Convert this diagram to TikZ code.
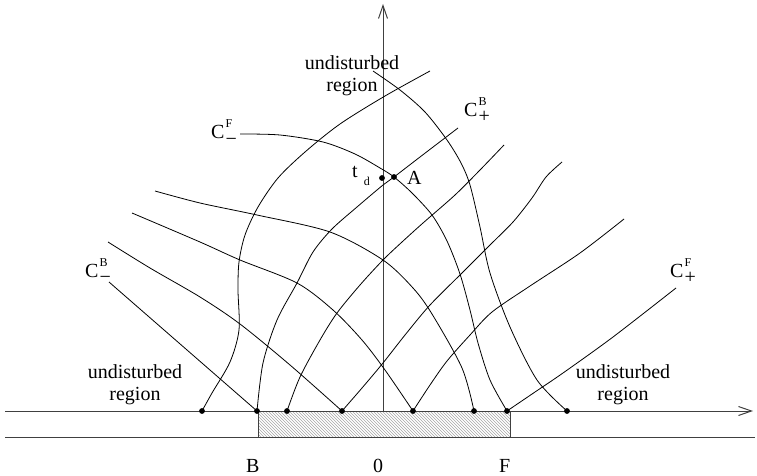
\documentclass[tikz,border=0pt]{standalone}
\usepackage{fontspec}
\setmainfont{Liberation Serif}
\usetikzlibrary{arrows.meta,patterns}

% characteristic label: C with letter above and sign below
\newcommand{\chr}[2]{C\kern1pt\rlap{\raisebox{11pt}{\fontsize{12}{12}\selectfont #2}}\raisebox{-6pt}{#1}}

\begin{document}
\begin{tikzpicture}[x=1pt,y=-1pt,
  axis/.style={line width=1pt,black!75},
  tip/.style={-{Straight Barb[length=13pt,width=9pt]}},
  curve/.style={line width=0.8pt},
  lbl/.style={font=\fontsize{20}{22}\selectfont,inner sep=0pt},
  region/.style={lbl,align=center}]
  \useasboundingbox (0,0) rectangle (757,476);

  % axes and the strip B..F
  \coordinate (xl) at (5,411);
  \coordinate (xr) at (753,411);
  \coordinate (ll) at (5,437);
  \coordinate (lr) at (755,437);
  \coordinate (O) at (383,411);
  \coordinate (yt) at (383,4);
  \fill[pattern=north west lines,pattern color=black!35] (258,411) rectangle (510,437);
  \draw[axis] (258,411) rectangle (510,437);
  \draw[axis,tip] (xl) -- (xr);
  \draw[axis] (ll) -- (lr);
  \draw[axis,tip] (O) -- (yt);

  % starting points on the axis
  \coordinate (p1) at (202,411);
  \coordinate (pB) at (257,411);
  \coordinate (p3) at (287,411);
  \coordinate (p4) at (342,411);
  \coordinate (p5) at (413,411);
  \coordinate (p6) at (474,411);
  \coordinate (pF) at (507,411);
  \coordinate (p8) at (567,411);
  \coordinate (td) at (382,178);
  \coordinate (A) at (394,177);

  % C+ family
  \draw[curve] plot[smooth] coordinates {(p1) (212,393) (230,362) (239,330) (238,290)
    (239,262) (245,235) (258,207) (278,178) (305,152) (340,124) (385,96) (430,71)};
  \draw[curve] plot[smooth] coordinates {(pB) (263,363) (277,320) (297,283) (313,252)
    (332,229) (357,207) (383,185) (A) (420,157) (458,128)};
  \draw[curve] plot[smooth] coordinates {(p3) (300,377) (320,340) (337,313) (360,285)
    (383,260) (402,242) (423,223) (455,195) (480,170) (504,145)};
  \draw[curve] plot[smooth] coordinates {(p4) (362,388) (383,363) (405,335) (430,305)
    (463,272) (490,245) (513,222) (532,198) (546,177) (562,162)};
  \draw[curve] plot[smooth] coordinates {(p5) (430,385) (447,361) (470,335) (492,312)
    (530,286) (580,253) (624,219)};
  \draw[curve] plot[smooth] coordinates {(pF) (535,392) (563,373) (613,337) (676,288)};

  % C- family
  \draw[curve] (109,282) -- (pB);
  \draw[curve] plot[smooth] coordinates {(108,242) (150,268) (200,297) (240,324)
    (290,365) (p4)};
  \draw[curve] plot[smooth] coordinates {(132,213) (200,242) (240,260) (297,283)
    (333,310) (362,340) (385,370) (p5)};
  \draw[curve] plot[smooth] coordinates {(155,191) (200,203) (257,215) (330,232)
    (383,260) (413,288) (432,314) (462,368) (p6)};
  \draw[curve] plot[smooth] coordinates {(240,134) (280,135) (323,142) (355,154)
    (380,168) (A) (412,193) (432,215) (447,241) (460,274) (470,310) (478,343)
    (490,380) (pF)};
  \draw[curve] plot[smooth] coordinates {(373,71) (400,90) (425,112) (447,140)
    (461,163) (470,185) (480,227) (490,273) (510,327) (537,380) (p8)};

  % dots
  \foreach \p in {p1,pB,p3,p4,p5,p6,pF,p8,td,A}
    \fill (\p) circle (2.9);

  % labels
  \node[lbl,anchor=base west] (cmb) at (85,277) {\chr{−}{B}};
  \node[lbl,anchor=base west] (cmf) at (211,139) {\chr{−}{F}};
  \node[lbl,anchor=base west] (cpb) at (464,117) {\chr{+}{B}};
  \node[lbl,anchor=base west] (cpf) at (670,277) {\chr{+}{F}};
  \node[lbl,anchor=base west] (tdl) at (352,177) {t\kern6pt\raisebox{-8pt}{\fontsize{12}{12}\selectfont d}};
  \node[lbl,anchor=base west] (al) at (407,184) {A};
  \node[lbl,anchor=base west] (bl) at (246,472) {B};
  \node[lbl,anchor=base west] (zl) at (373,472) {0};
  \node[lbl,anchor=base west] (fl) at (499,472) {F};
  \node[region] (rtop) at (352,76) {undisturbed\\region};
  \node[region] (rleft) at (135,385) {undisturbed\\region};
  \node[region] (rright) at (623,385) {undisturbed\\region};
\end{tikzpicture}
\end{document}
